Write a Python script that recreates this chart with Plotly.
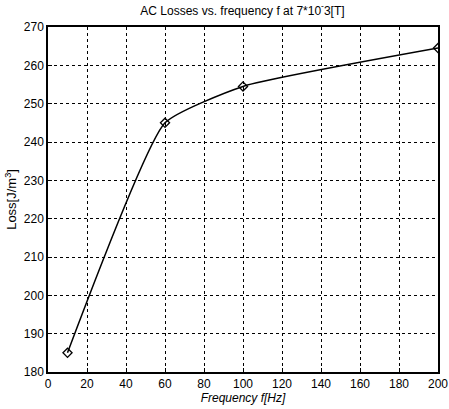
import plotly.graph_objects as go

freq = [10, 60, 100, 200]
loss = [185, 245, 254.5, 264.5]
x_ticks = [0, 20, 40, 60, 80, 100, 120, 140, 160, 180, 200]
y_ticks = [180, 190, 200, 210, 220, 230, 240, 250, 260, 270]

fig = go.Figure()
fig.add_trace(go.Scatter(
    x=freq, y=loss, mode="lines+markers",
    line=dict(color="black", width=1.5, shape="spline", smoothing=0.45),
    marker=dict(symbol="diamond-open", size=7, color="black", line=dict(width=1.3)),
    showlegend=False,
))

axis_common = dict(
    showgrid=True, gridcolor="black", griddash="3px,3px", gridwidth=1,
    showline=True, linecolor="black", linewidth=1.5, mirror=True,
    ticks="inside", ticklen=4, tickcolor="black",
    zeroline=False, automargin=False,
    tickfont=dict(family="Liberation Sans", size=12, color="black"),
)
fig.update_xaxes(range=[0, 200], tickvals=x_ticks, **axis_common,
                 title=dict(text="<i>Frequency f[Hz]</i>", standoff=2,
                            font=dict(family="Liberation Sans", size=12, color="black")))
fig.update_yaxes(range=[180, 270], tickvals=y_ticks, **axis_common,
                 title=dict(text="Loss[J/m<sup>3</sup>]", standoff=4,
                            font=dict(family="Liberation Sans", size=13, color="black")))

fig.update_layout(
    width=449, height=409,
    margin=dict(l=48, r=11, t=27, b=37),
    paper_bgcolor="white", plot_bgcolor="white",
    title=dict(text="AC Losses vs. frequency f at 7*10<sup>-</sup>3[T]", x=0.54, xanchor="center",
               y=0.985, yanchor="top",
               font=dict(family="Liberation Sans", size=12, color="black")),
)
fig.write_html("out.html")
